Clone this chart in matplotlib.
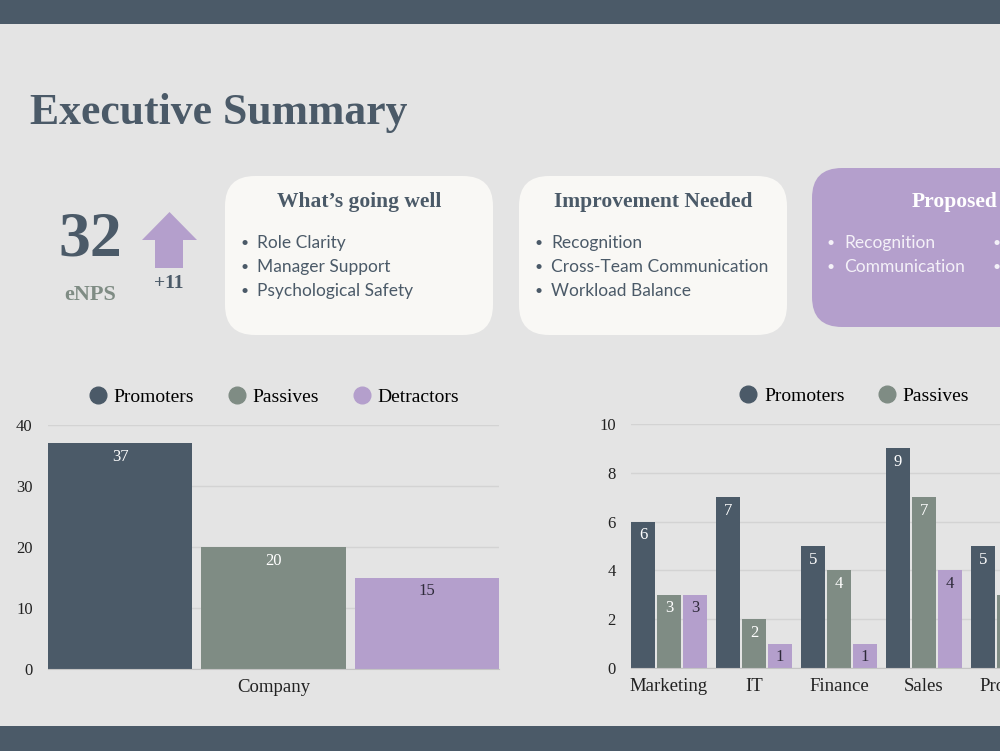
import numpy as np
import matplotlib.pyplot as plt
from matplotlib.patches import FancyBboxPatch, Rectangle, Polygon
from matplotlib.lines import Line2D

# ── Data ──────────────────────────────────────────────────
SERIES        = ['Promoters', 'Passives', 'Detractors']
COMPANY_CAT   = ['Company']
COMPANY_VALS  = [37, 20, 15]

DEPTS         = ['Marketing', 'IT', 'Finance', 'Sales', 'Product']
DEPT_PROM     = [6, 7, 5, 9, 5]
DEPT_PASS     = [3, 2, 4, 7, 3]
DEPT_DETR     = [3, 1, 1, 4, 2]

ENPS          = 32
ENPS_CHANGE   = '+11'

WELL          = ['Role Clarity', 'Manager Support', 'Psychological Safety']
IMPROVE       = ['Recognition', 'Cross-Team Communication', 'Workload Balance']
PROPOSED      = ['Recognition', 'Communication']

# ── Style ─────────────────────────────────────────────────
BG      = '#e4e4e4'
SLATE   = '#4b5a68'
SAGE    = '#7f8c84'
LILAC   = '#b49fcc'
CARD    = '#f9f8f5'
GRID    = '#d3d3d3'
COLORS  = [SLATE, SAGE, LILAC]
LABEL_C = ['white', 'white', '#2e2a3a']
SERIF   = ['Liberation Serif', 'DejaVu Serif']
SANS    = ['Lato', 'DejaVu Sans']

W, H = 1000, 751
fig = plt.figure(figsize=(W / 100, H / 100), dpi=100, facecolor=BG)

# overlay in pixel coordinates (y down)
bg = fig.add_axes([0, 0, 1, 1], zorder=0)
bg.set_xlim(0, W)
bg.set_ylim(H, 0)
bg.axis('off')

bg.add_patch(Rectangle((0, 0), W, 24, color=SLATE, lw=0))
bg.add_patch(Rectangle((0, 726), W, 25, color=SLATE, lw=0))

bg.text(30, 113, 'Executive Summary', family=SERIF, weight='bold',
        fontsize=31.5, color=SLATE, va='center', ha='left')

# ── eNPS block ────────────────────────────────────────────
bg.text(90, 240, str(ENPS), family=SERIF, weight='bold', fontsize=46,
        color=SLATE, ha='center', va='center')
bg.text(90, 295, 'eNPS', family=SERIF, weight='bold', fontsize=16,
        color=SAGE, ha='center', va='center')
bg.add_patch(Polygon([(169.5, 212), (197, 240), (183, 240), (183, 268),
                      (155, 268), (155, 240), (142, 240)],
                     closed=True, color=LILAC, lw=0))
bg.text(169, 284, ENPS_CHANGE, family=SERIF, weight='bold', fontsize=14,
        color=SLATE, ha='center', va='center')


def card(x, y, w, h, color, title, items, title_c, text_c, col2=None):
    bg.add_patch(FancyBboxPatch((x, y), w, h,
                                boxstyle='round,pad=0,rounding_size=30',
                                fc=color, ec='none'))
    bg.text(x + w / 2, 202, title, family=SERIF, weight='bold',
            fontsize=15.5, color=title_c, ha='center', va='center')
    for i, item in enumerate(items):
        yy = 243 + 24 * i
        bg.text(x + 15, yy, '\u2022', family=SANS, fontsize=10,
                color=text_c, ha='left', va='center')
        bg.text(x + 32, yy, item, family=SANS, fontsize=12.5,
                color=text_c, ha='left', va='center')
        if col2:
            bg.text(col2, yy, '\u2022', family=SANS, fontsize=10,
                    color=text_c, ha='left', va='center')


card(225, 176, 268, 159, CARD, 'What\u2019s going well', WELL, SLATE, SLATE)
card(519, 176, 268, 159, CARD, 'Improvement Needed', IMPROVE, SLATE, SLATE)
card(812, 168, 285, 159, LILAC, 'Proposed', PROPOSED, 'white', '#f4f1f8',
     col2=992)


# ── Charts ────────────────────────────────────────────────
def style_axis(ax, ymax, step):
    ax.set_facecolor('none')
    ax.set_ylim(0, ymax)
    ax.set_yticks(np.arange(0, ymax + 1, step))
    ax.grid(axis='y', color=GRID, lw=1)
    ax.set_axisbelow(True)
    for s in ['top', 'right', 'left']:
        ax.spines[s].set_visible(False)
    ax.spines['bottom'].set_color('#c4c4c4')
    ax.tick_params(length=0, colors='#222222')
    ax.tick_params(axis='y', pad=11)
    ax.tick_params(axis='x', pad=7)
    for lbl in ax.get_yticklabels():
        lbl.set_family(SERIF)
        lbl.set_fontsize(12)
    for lbl in ax.get_xticklabels():
        lbl.set_family(SERIF)
        lbl.set_fontsize(13.5)
    handles = [Line2D([], [], marker='o', ls='', ms=12, color=c) for c in COLORS]
    ax.legend(handles, SERIES, loc='lower center', bbox_to_anchor=(0.5, 1.005),
              ncol=3, frameon=False, handlelength=1.0, handletextpad=0.3,
              columnspacing=1.7, prop={'family': SERIF, 'size': 14})


def label_bars(ax, bars, color):
    for b in bars:
        ax.annotate(f'{b.get_height():g}',
                    (b.get_x() + b.get_width() / 2, b.get_height()),
                    xytext=(0, -4), textcoords='offset points',
                    ha='center', va='top', family=SERIF, fontsize=12,
                    color=color)


# left: company
ax1 = fig.add_axes([48 / W, (H - 669) / H, 451 / W, 244 / H], zorder=2)
x1 = np.arange(len(COMPANY_CAT))
bw1, step1 = 0.32, 0.34
for i, (name, v) in enumerate(zip(SERIES, COMPANY_VALS)):
    bars = ax1.bar(x1 + (i - 1) * step1, [v], bw1, color=COLORS[i], lw=0)
    label_bars(ax1, bars, LABEL_C[i])
ax1.set_xlim(-0.5, 0.5)
ax1.set_xticks(x1)
ax1.set_xticklabels(COMPANY_CAT)
style_axis(ax1, 40, 10)

# right: departments
ax2 = fig.add_axes([631 / W, (H - 668) / H, 586 / W, 244 / H], zorder=2)
x2 = np.arange(len(DEPTS))
bw2, step2 = 0.29, 0.305
for i, vals in enumerate([DEPT_PROM, DEPT_PASS, DEPT_DETR]):
    bars = ax2.bar(x2 + (i - 1) * step2, vals, bw2, color=COLORS[i], lw=0)
    label_bars(ax2, bars, LABEL_C[i])
ax2.set_xlim(-0.447, -0.447 + 586 / 85)
ax2.set_xticks(x2)
ax2.set_xticklabels(DEPTS)
style_axis(ax2, 10, 2)

fig.savefig('out.png', dpi=100, facecolor=BG)
